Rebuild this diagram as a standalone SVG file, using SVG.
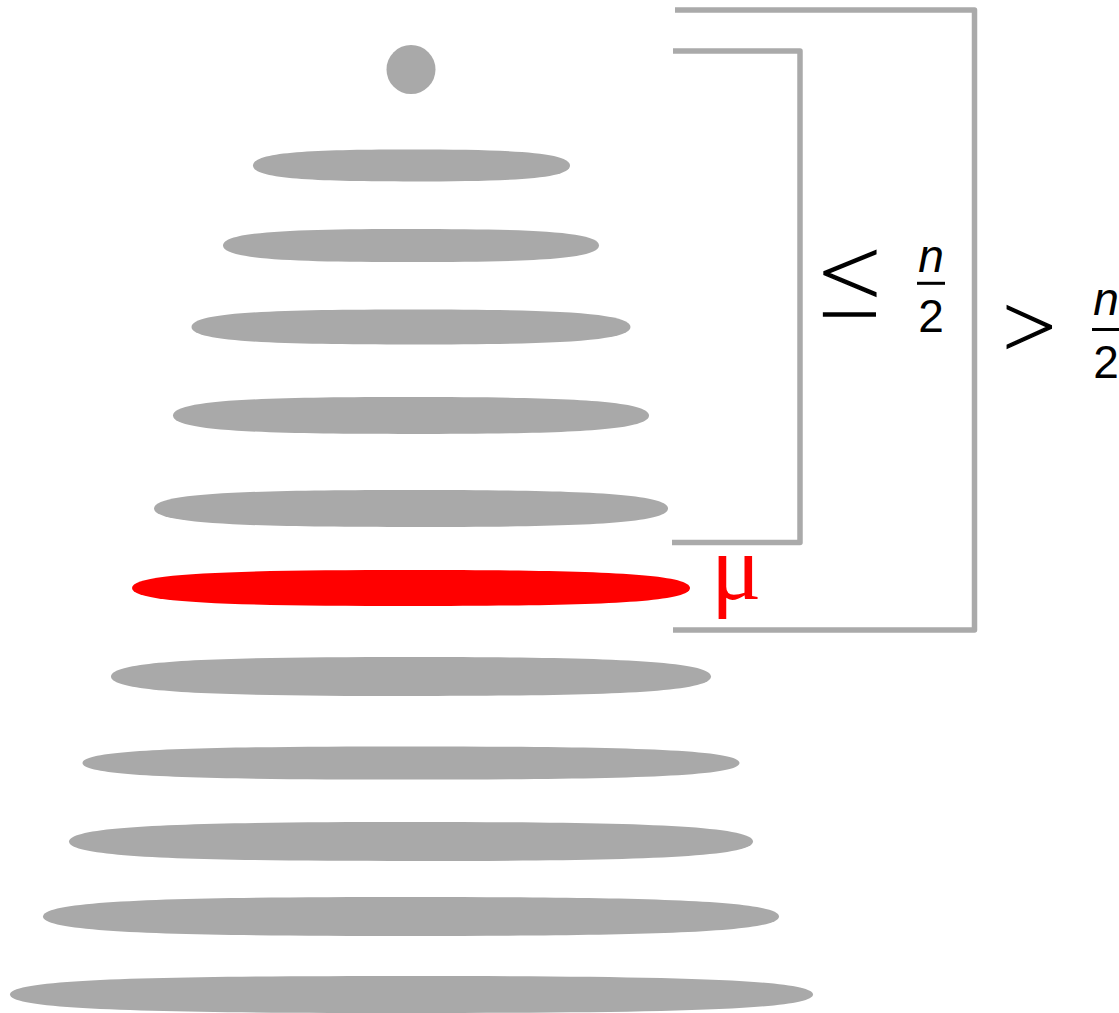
<svg xmlns="http://www.w3.org/2000/svg" xmlns:xlink="http://www.w3.org/1999/xlink" width="1119" height="1013" viewBox="0 0 1119 1013">
<style>
.disc{fill:#a9a9a9}
.red{fill:#ff0000}
.br{fill:none;stroke:#aaaaaa;stroke-width:5.5;stroke-linejoin:round}
.sym{font-family:Roboto,"Liberation Sans",sans-serif;font-weight:100;fill:#000;stroke:#000;stroke-width:1.4;text-anchor:middle}
.num{font-family:"Liberation Sans",Arial,sans-serif;font-size:46px;fill:#000;text-anchor:middle}
.mu{font-family:"Liberation Serif","Times New Roman",serif;font-size:94px;fill:#ff0000}
</style>
<defs>
<path id="lens" d="M -1 0 C -1 -0.85 -0.62 -1 0 -1 C 0.62 -1 1 -0.85 1 0 C 1 0.85 0.62 1 0 1 C -0.62 1 -1 0.85 -1 0 Z"/>
</defs>
<rect width="1119" height="1013" fill="#ffffff"/>
<g id="stack">
<g id="top"><circle class="disc" cx="411" cy="69.5" r="24.5"/></g>
<g id="l2"><use xlink:href="#lens" class="disc" transform="translate(411.5,165.5) scale(158.5,16)"/></g>
<g id="l3"><use xlink:href="#lens" class="disc" transform="translate(411,245.5) scale(188,16.5)"/></g>
<g id="l4"><use xlink:href="#lens" class="disc" transform="translate(411,327) scale(219.5,17.5)"/></g>
<g id="l5"><use xlink:href="#lens" class="disc" transform="translate(411,415.5) scale(238,18.5)"/></g>
<g id="l6"><use xlink:href="#lens" class="disc" transform="translate(411,508.5) scale(257,18.5)"/></g>
<g id="median"><use xlink:href="#lens" class="red" transform="translate(411,588) scale(279,18)"/>
<text class="mu" x="711" y="599">μ</text></g>
<g id="l8"><use xlink:href="#lens" class="disc" transform="translate(411,676.5) scale(300,19.5)"/></g>
<g id="l9"><use xlink:href="#lens" class="disc" transform="translate(411,763) scale(328.5,16.5)"/></g>
<g id="l10"><use xlink:href="#lens" class="disc" transform="translate(411,841.5) scale(342,19.5)"/></g>
<g id="l11"><use xlink:href="#lens" class="disc" transform="translate(411,916.5) scale(368,19.5)"/></g>
<g id="l12"><use xlink:href="#lens" class="disc" transform="translate(411.5,994.5) scale(401.5,18.5)"/></g>
</g>
<g id="connectors">
<path class="br" d="M 673 51 H 800 V 542.5 H 672"/>
<path class="br" d="M 675 10 H 974.5 V 630 H 673"/>
</g>
<g id="label-le">
<text class="sym" transform="translate(851.5,316) scale(1.1,1)" font-size="115">≤</text>
<text class="num" x="931" y="272" font-style="italic">n</text>
<rect x="917" y="281.8" width="28" height="3" fill="#000"/>
<text class="num" x="931" y="332">2</text>
</g>
<g id="label-gt">
<text class="sym" x="1029" y="362" font-size="108">&gt;</text>
<text class="num" x="1106" y="315" font-style="italic">n</text>
<rect x="1092" y="328" width="28" height="3" fill="#000"/>
<text class="num" x="1106" y="378">2</text>
</g>
</svg>
